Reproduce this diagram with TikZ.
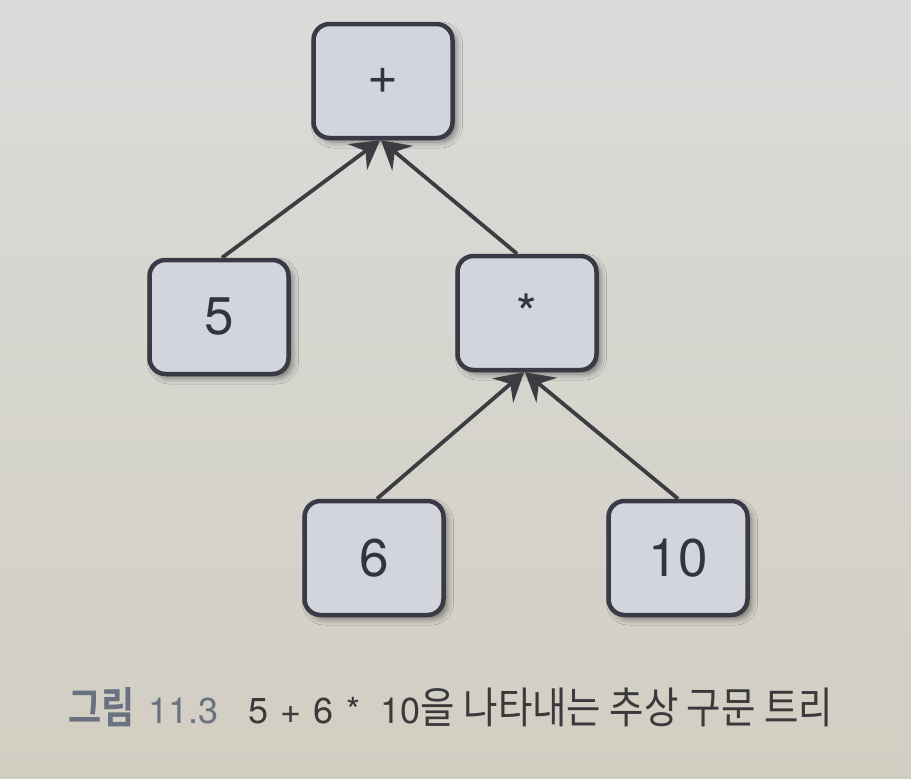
\documentclass[tikz,border=0pt]{standalone}
\usepackage{fontspec}
\setmainfont{TeX Gyre Heros}
\newfontfamily\kr{Noto Sans CJK KR}
\newfontfamily\krb{Noto Sans CJK KR Bold}
\usetikzlibrary{arrows.meta,shadows.blur}
\definecolor{bgtop}{HTML}{DADCDA}
\definecolor{bgbot}{HTML}{D2CEC2}
\definecolor{boxfill}{HTML}{D3D5DC}
\definecolor{boxline}{HTML}{3A3A46}
\definecolor{arrcol}{HTML}{3C3C42}
\definecolor{capblue}{HTML}{6A7282}
\definecolor{captext}{HTML}{3A3A3C}
\tikzset{
  treebox/.style={draw=boxline, fill=boxfill, line width=4.5pt, rounded corners=16pt,
    minimum width=139pt, minimum height=114pt, inner sep=0pt,
    font=\fontsize{53}{60}\selectfont, text=boxline!90!black,
    blur shadow={shadow xshift=4pt, shadow yshift=-4pt, shadow blur radius=6pt, shadow opacity=45}},
  treearrow/.style={draw=arrcol, line width=3.8pt,
    -{Stealth[length=28pt, width=32pt, inset=10pt]}},
}
\begin{document}
\begin{tikzpicture}[x=1pt,y=-1pt]
\shade[top color=bgtop, bottom color=bgbot] (0,0) rectangle (911,779);
\useasboundingbox (0,0) rectangle (911,779);
\node[treebox] (plus) at (383,81) {+};
\node[treebox] (five) at (219,317) {5};
\node[treebox] (times) at (527,313) {*};
\node[treebox] (six) at (374,558) {6};
\node[treebox] (ten) at (678,558) {10};
\draw[treearrow] ([xshift=3pt]five.north) -- ([xshift=-3pt]plus.south);
\draw[treearrow] ([xshift=-10pt]times.north) -- ([xshift=-2pt]plus.south);
\draw[treearrow] ([xshift=3pt]six.north) -- ([xshift=-3pt]times.south);
\draw[treearrow] (ten.north) -- ([xshift=-2pt]times.south);
\node[anchor=base west, inner sep=0pt, font=\fontsize{36}{40}\selectfont] (cap) at (68,723)
  {\color{capblue}\scalebox{0.84}[1]{\krb\fontsize{43}{46}\selectfont 그림}\hspace{14pt}11.3\hspace{30pt}\color{captext}5\hspace{12pt}+\hspace{12pt}6\hspace{13pt}*\hspace{20pt}10\scalebox{0.87}[1]{\kr\fontsize{43}{46}\selectfont 을 나타내는 추상 구문 트리}};
\end{tikzpicture}
\end{document}
